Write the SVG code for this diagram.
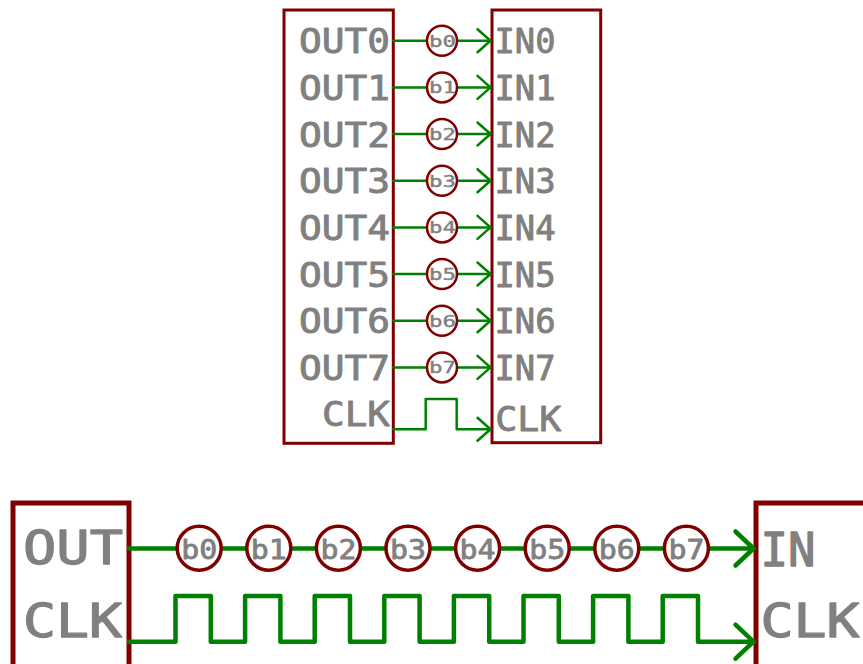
<svg xmlns="http://www.w3.org/2000/svg" width="863" height="664" viewBox="0 0 863 664">
<style>
.box{fill:#fff;stroke:#800000;stroke-linejoin:miter}
.t{fill:#808080;stroke:#808080;stroke-width:0.9;stroke-linejoin:round;font-family:"DejaVu Sans Mono","Liberation Mono",monospace;font-weight:normal}
.w{fill:none;stroke:#008000;stroke-linecap:round;stroke-linejoin:round}
.bit{fill:#fff;stroke:#800000}
</style>
<defs>
<marker id="ah" markerUnits="userSpaceOnUse" markerWidth="30" markerHeight="30" refX="0" refY="0" orient="auto" overflow="visible">
<path d="M-13,-11.5 L0,0 L-13,11.5" fill="none" stroke="#008000" stroke-width="2.5" stroke-linecap="round" stroke-linejoin="round"/>
</marker>
<marker id="ahb" markerUnits="userSpaceOnUse" markerWidth="40" markerHeight="40" refX="0" refY="0" orient="auto" overflow="visible">
<path d="M-18,-17 L0,0 L-18,17" fill="none" stroke="#008000" stroke-width="4.5" stroke-linecap="round" stroke-linejoin="round"/>
</marker>
</defs>

<g id="sender-top">
<rect class="box" x="284" y="10" width="109.3" height="433.3" stroke-width="3"/>
<g class="t" font-size="34">
<text x="299" y="53.3" textLength="91" lengthAdjust="spacingAndGlyphs">OUT0</text>
<text x="299" y="100" textLength="91" lengthAdjust="spacingAndGlyphs">OUT1</text>
<text x="299" y="146.7" textLength="91" lengthAdjust="spacingAndGlyphs">OUT2</text>
<text x="299" y="193.3" textLength="91" lengthAdjust="spacingAndGlyphs">OUT3</text>
<text x="299" y="240" textLength="91" lengthAdjust="spacingAndGlyphs">OUT4</text>
<text x="299" y="286.7" textLength="91" lengthAdjust="spacingAndGlyphs">OUT5</text>
<text x="299" y="333.3" textLength="91" lengthAdjust="spacingAndGlyphs">OUT6</text>
<text x="299" y="380" textLength="91" lengthAdjust="spacingAndGlyphs">OUT7</text>
<text x="322" y="426" textLength="68" lengthAdjust="spacingAndGlyphs">CLK</text>
</g>
</g>

<g id="receiver-top">
<rect class="box" x="492" y="10" width="108.7" height="432.7" stroke-width="3"/>
<g class="t" font-size="34">
<text x="494.5" y="53.3" textLength="61" lengthAdjust="spacingAndGlyphs">IN0</text>
<text x="494.5" y="100" textLength="61" lengthAdjust="spacingAndGlyphs">IN1</text>
<text x="494.5" y="146.7" textLength="61" lengthAdjust="spacingAndGlyphs">IN2</text>
<text x="494.5" y="193.3" textLength="61" lengthAdjust="spacingAndGlyphs">IN3</text>
<text x="494.5" y="240" textLength="61" lengthAdjust="spacingAndGlyphs">IN4</text>
<text x="494.5" y="286.7" textLength="61" lengthAdjust="spacingAndGlyphs">IN5</text>
<text x="494.5" y="333.3" textLength="61" lengthAdjust="spacingAndGlyphs">IN6</text>
<text x="494.5" y="380" textLength="61" lengthAdjust="spacingAndGlyphs">IN7</text>
<text x="495.3" y="430.7" textLength="66" lengthAdjust="spacingAndGlyphs">CLK</text>
</g>
</g>

<g id="sender-bottom">
<rect class="box" x="13" y="503" width="116" height="200" stroke-width="5"/>
<g class="t" font-size="47" style="stroke-width:1.3">
<text x="23" y="564" textLength="100" lengthAdjust="spacingAndGlyphs">OUT</text>
<text x="23" y="636.7" textLength="99" lengthAdjust="spacingAndGlyphs">CLK</text>
</g>
</g>

<g id="receiver-bottom">
<rect class="box" x="756" y="503" width="200" height="200" stroke-width="5"/>
<g class="t" font-size="47" style="stroke-width:1.3">
<text x="760.5" y="566" textLength="55" lengthAdjust="spacingAndGlyphs">IN</text>
<text x="760.5" y="636.7" textLength="99" lengthAdjust="spacingAndGlyphs">CLK</text>
</g>
</g>

<g id="connectors">
<g class="w" stroke-width="2.5" marker-end="url(#ah)">
<path d="M393.3,40.7 H490.5"/>
<path d="M393.3,87.4 H490.5"/>
<path d="M393.3,134 H490.5"/>
<path d="M393.3,180.7 H490.5"/>
<path d="M393.3,227.4 H490.5"/>
<path d="M393.3,274 H490.5"/>
<path d="M393.3,320.7 H490.5"/>
<path d="M393.3,367.4 H490.5"/>
<path d="M393.3,429.3 H425.7 V399 H456.7 V429.3 H490.5"/>
</g>
<g class="w" stroke-width="4.5" marker-end="url(#ahb)">
<path d="M129,548.5 H753.5"/>
<path d="M129,641.7 H175.5 V596 H210.8 V641.7 H245.1 V596 H280.4 V641.7 H314.7 V596 H350 V641.7 H384.3 V596 H419.6 V641.7 H453.9 V596 H489.2 V641.7 H523.5 V596 H558.8 V641.7 H593.1 V596 H628.4 V641.7 H662.7 V596 H698 V641.7 H753.5"/>
</g>
</g>

<g id="bits-top">
<g class="bit" stroke-width="2.5">
<circle cx="442" cy="40.7" r="15"/>
<circle cx="442" cy="87.4" r="15"/>
<circle cx="442" cy="134" r="15"/>
<circle cx="442" cy="180.7" r="15"/>
<circle cx="442" cy="227.4" r="15"/>
<circle cx="442" cy="274" r="15"/>
<circle cx="442" cy="320.7" r="15"/>
<circle cx="442" cy="367.4" r="15"/>
</g>
<g class="t" font-size="16" text-anchor="middle" style="stroke-width:0.4">
<text x="442.5" y="46.7" textLength="27" lengthAdjust="spacingAndGlyphs">b0</text>
<text x="442.5" y="93.4" textLength="27" lengthAdjust="spacingAndGlyphs">b1</text>
<text x="442.5" y="140" textLength="27" lengthAdjust="spacingAndGlyphs">b2</text>
<text x="442.5" y="186.7" textLength="27" lengthAdjust="spacingAndGlyphs">b3</text>
<text x="442.5" y="233.4" textLength="27" lengthAdjust="spacingAndGlyphs">b4</text>
<text x="442.5" y="280" textLength="27" lengthAdjust="spacingAndGlyphs">b5</text>
<text x="442.5" y="326.7" textLength="27" lengthAdjust="spacingAndGlyphs">b6</text>
<text x="442.5" y="373.4" textLength="27" lengthAdjust="spacingAndGlyphs">b7</text>
</g>
</g>

<g id="bits-bottom">
<g class="bit" stroke-width="3.5">
<circle cx="199.2" cy="548.3" r="22"/>
<circle cx="268.8" cy="548.3" r="22"/>
<circle cx="338.4" cy="548.3" r="22"/>
<circle cx="408" cy="548.3" r="22"/>
<circle cx="477.6" cy="548.3" r="22"/>
<circle cx="547.2" cy="548.3" r="22"/>
<circle cx="616.8" cy="548.3" r="22"/>
<circle cx="686.4" cy="548.3" r="22"/>
</g>
<g class="t" font-size="26" text-anchor="middle" style="stroke-width:0.8">
<text x="199.2" y="559.3" textLength="36" lengthAdjust="spacingAndGlyphs">b0</text>
<text x="268.8" y="559.3" textLength="36" lengthAdjust="spacingAndGlyphs">b1</text>
<text x="338.4" y="559.3" textLength="36" lengthAdjust="spacingAndGlyphs">b2</text>
<text x="408" y="559.3" textLength="36" lengthAdjust="spacingAndGlyphs">b3</text>
<text x="477.6" y="559.3" textLength="36" lengthAdjust="spacingAndGlyphs">b4</text>
<text x="547.2" y="559.3" textLength="36" lengthAdjust="spacingAndGlyphs">b5</text>
<text x="616.8" y="559.3" textLength="36" lengthAdjust="spacingAndGlyphs">b6</text>
<text x="686.4" y="559.3" textLength="36" lengthAdjust="spacingAndGlyphs">b7</text>
</g>
</g>
</svg>
